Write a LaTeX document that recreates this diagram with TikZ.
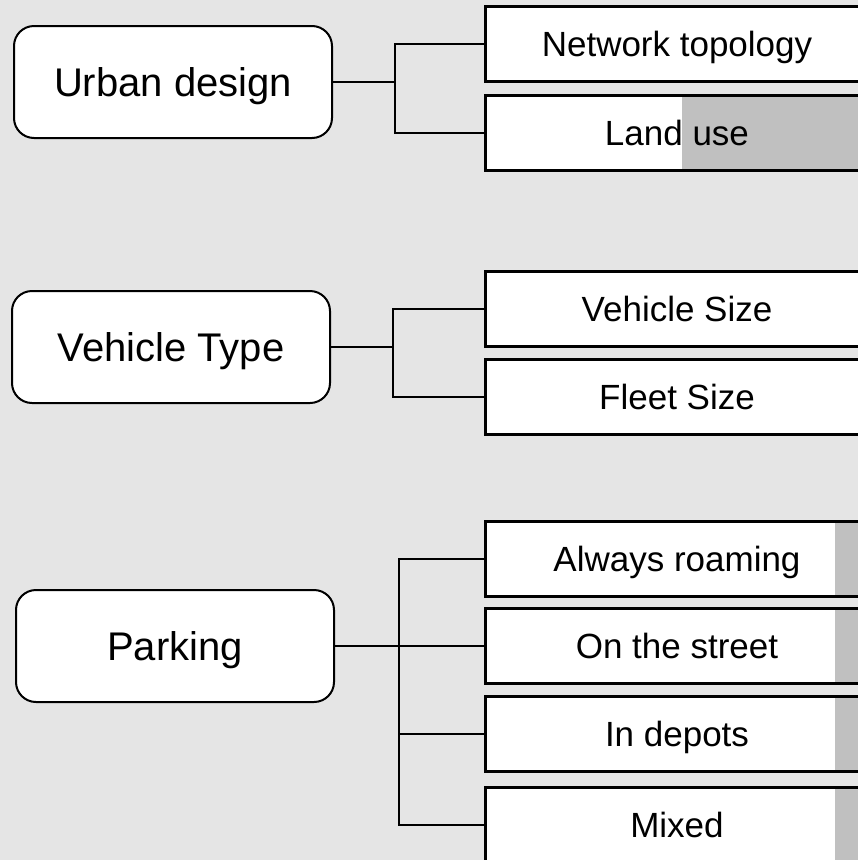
\documentclass[tikz,border=0pt]{standalone}
\usepackage{fontspec}
\setmainfont{Liberation Sans}
\definecolor{bg}{HTML}{E5E5E5}
\definecolor{strip}{HTML}{C0C0C0}
\tikzset{
  group/.style={draw,fill=white,line width=2pt,rounded corners=20pt,minimum width=318pt,minimum height=112pt,text height=28.8pt,text depth=0pt,font=\fontsize{40}{48}\selectfont},
  item/.style={draw,fill=white,line width=3pt,minimum width=384pt,minimum height=75pt,text height=25.2pt,text depth=0pt,font=\fontsize{35}{42}\selectfont},
  tail/.style={path picture={\fill[strip] ([xshift=#1]path picture bounding box.north west) rectangle (path picture bounding box.south east);}},
  link/.style={line width=2pt}
}
\begin{document}
\begin{tikzpicture}[x=1pt,y=-1pt]
\useasboundingbox (0,0) rectangle (858,860);
\clip (0,0) rectangle (858,860);
\fill[bg] (0,0) rectangle (858,860);
% left boxes
\node[group] (ud) at (173,82) {Urban design};
\node[group] (vt) at (171,347) {Vehicle Type};
\node[group] (pk) at (175,646) {Parking};
% right boxes
\node[item] (nt) at (677,44) {Network topology};
\node[item,tail=197pt] (lu) at (677,133) {Land use};
\node[item] (vs) at (677,309) {Vehicle Size};
\node[item] (fs) at (677,397) {Fleet Size};
\node[item,tail=350pt] (ar) at (677,559) {Always roaming};
\node[item,tail=350pt] (os) at (677,646) {On the street};
\node[item,tail=350pt] (id) at (677,734) {In depots};
\node[item,tail=350pt] (mx) at (677,825) {Mixed};
% brackets
\coordinate (uj) at (395,82);
\coordinate (vj) at (393,347);
\coordinate (pj) at (399,646);
\draw[link] (ud.east) -- (uj);
\draw[link] (uj) |- (nt.west);
\draw[link] (uj) |- (lu.west);
\draw[link] (vt.east) -- (vj);
\draw[link] (vj) |- (vs.west);
\draw[link] (vj) |- (fs.west);
\draw[link] (pk.east) -- (os.west);
\draw[link] (pj) |- (ar.west);
\draw[link] (pj) |- (id.west);
\draw[link] (pj) |- (mx.west);
\end{tikzpicture}
\end{document}
